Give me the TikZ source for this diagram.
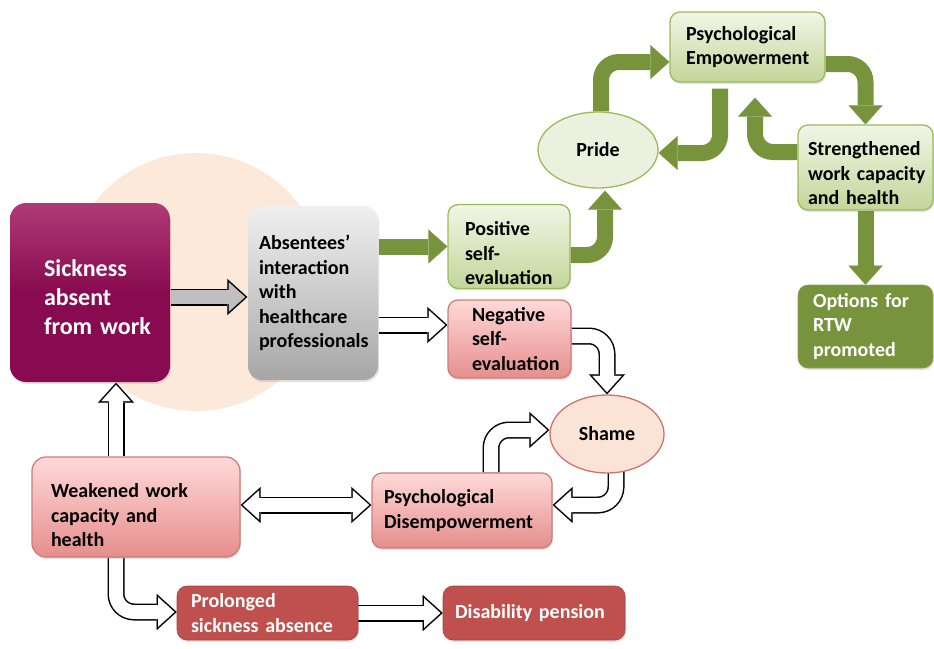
\documentclass[tikz,border=0pt]{standalone}
\usepackage{fontspec}
\setmainfont{Carlito}
\usetikzlibrary{arrows.meta,calc,shapes.geometric,backgrounds,shadows}

\definecolor{plum}{HTML}{880A50}
\definecolor{plumtop}{HTML}{B03A78}
\definecolor{leaf}{HTML}{77933C}
\definecolor{leafline}{HTML}{9BBB59}
\definecolor{leaftop}{HTML}{F1F6E6}
\definecolor{leafbot}{HTML}{C2D69A}
\definecolor{rose}{HTML}{C0504D}
\definecolor{rosetop}{HTML}{FFD9D9}
\definecolor{rosebot}{HTML}{E58E8C}
\definecolor{peach}{HTML}{FDE9D9}
\definecolor{shamefill}{HTML}{FBE4D5}
\definecolor{pridefill}{HTML}{EBF1DE}
\definecolor{arrowgray}{HTML}{C0C0C0}

\hyphenpenalty=10000
\exhyphenpenalty=10000

\tikzset{
  block/.tip={Triangle[width=36pt,length=20pt,line width=0.1pt]},
  blockin/.tip={Triangle[width=29.3pt,length=16.3pt,line width=0.1pt]},
  leafhead/.tip={Triangle[width=34pt,length=19pt,line width=0.1pt]}
}

% outlined block arrow: black edge first, then the body on top
\newcommand{\blockarrow}[2][white]{%
  \draw[arrow edge] #2;
  \draw[arrow body, #1] #2;}
% taller first line, pushes the text of a box down a little
\newcommand{\dropline}[1]{\rule{0pt}{#1}}

\begin{document}
\begin{tikzpicture}[x=10pt,y=10pt,
  every node/.style={font=\bfseries\fontsize{20}{24.5}\selectfont, align=left},
  box/.style={rectangle, rounded corners=10pt, line width=1.3pt,
    drop shadow={opacity=0.22, shadow xshift=1pt, shadow yshift=-2pt}},
  leafbox/.style={box, draw=leafline, top color=leaftop, bottom color=leafbot},
  rosebox/.style={box, draw=rose!75!white, top color=rosetop, bottom color=rosebot},
  darkbox/.style={box, line width=0.6pt, text=white},
  blob/.style={ellipse, line width=1.3pt, inner sep=0pt},
  leafarrow/.style={leaf, line width=16pt, rounded corners=18pt, -leafhead},
  arrow edge/.style={black, line width=17pt, rounded corners=18pt, -block},
  arrow body/.style={line width=14pt, rounded corners=18pt, shorten >=2.25pt, -blockin}]
\useasboundingbox (0,0) rectangle (93.4,-64.8);

\node[box, rounded corners=16pt, minimum height=179pt, text width=92pt, inner xsep=34pt,
  top color=plumtop, bottom color=plum, middle color=plum, text=white,
  font=\bfseries\fontsize{24}{29}\selectfont] (sick) at (9,-29.25) {\dropline{27pt}Sickness\\absent\\from~work};
\node[box, rounded corners=14pt, minimum height=174pt, text width=108pt, inner xsep=11pt,
  top color=gray!12, bottom color=gray!70, middle color=gray!40] (meet) at (31.3,-29.3)
  {Absentees’\\interaction\\with\\healthcare\\professionals};
\node[leafbox, minimum height=79pt, text width=88pt, inner xsep=17pt] (posi) at (50.9,-24.65)
  {\dropline{28pt}Positive\\self-\\evaluation};
\node[rosebox, minimum height=78pt, text width=75pt, inner xsep=24pt] (nega) at (50.95,-33.9)
  {Negative\\self-\\evaluation};
\node[blob, draw=leafline, fill=pridefill, minimum width=120pt, minimum height=76pt] (pride) at (59.8,-15) {Pride};
\node[leafbox, minimum height=70pt, text width=123pt, inner xsep=16pt] (emp) at (74.75,-4.7)
  {Psychological\\Empowerment};
\node[leafbox, minimum height=85pt, text width=115pt, inner xsep=10pt] (strong) at (86.55,-16.75)
  {\dropline{26pt}Strengthened\\work~capacity\\and~health};
\node[darkbox, draw=leaf!85!white, fill=leaf, minimum height=83pt, text width=105pt, inner xsep=15pt] (rtw) at (86.55,-32.65)
  {Options~for\\RTW\\promoted};
\node[blob, draw=rose!80!white, fill=shamefill, minimum width=114pt, minimum height=78pt] (shame) at (60.7,-43.4) {Shame};
\node[rosebox, minimum height=75pt, text width=156pt, inner xsep=12pt] (disemp) at (46.2,-51.05)
  {Psychological\\Disempowerment};
\node[rosebox, rounded corners=14pt, minimum height=100pt, text width=170pt, inner xsep=19pt] (weak) at (13.6,-50.7)
  {\dropline{31pt}Weakened~work\\capacity~and\\health};
\node[darkbox, draw=rose!85!black, fill=rose, minimum height=54pt, text width=153pt, inner xsep=14pt] (prolong) at (26.75,-61.3)
  {Prolonged\\sickness~absence};
\node[darkbox, draw=rose!85!black, fill=rose, minimum height=54pt, text width=158pt, inner xsep=12pt] (pension) at (53.4,-61.3)
  {Disability~pension};

\begin{scope}[on background layer]
\fill[peach] (19.6,-28.2) circle (12.9);

\draw[leafarrow] (meet.east |- posi.west) -- (posi.west);
\draw[leafarrow] ($(posi.east)+(0,-0.85)$) -| ($(pride.south)+(0.7,-0.2)$);
\draw[leafarrow] ($(pride.north)+(0.3,0)$) |- ($(emp.west)+(0,-1.5)$);
\draw[leafarrow] ($(emp.south)+(-2.75,-0.6)$) |- ($(pride.east)+(0,-0.3)$);
\draw[leafarrow] ($(strong.west)+(0,1.55)$) -| ($(emp.south)+(0.75,-1.5)$);
\draw[leafarrow] ($(emp.east)+(0,-1.7)$) -| (strong.north);
\draw[leafarrow] (strong.south) -- (rtw.north);

\blockarrow[arrowgray]{($(sick.east)+(0,-0.45)$) -- ($(meet.west)+(0,-0.4)$)}
\blockarrow{($(meet.east)+(0,-3.2)$) -- ($(nega.west)+(0,1.4)$)}
\blockarrow{($(nega.east)+(0,0.3)$) -| (shame.north)}
\blockarrow{($(shame.south)+(0.9,0.3)$) |- ($(disemp.east)+(0,0.55)$)}
\blockarrow{($(disemp.north)+(2.9,0)$) |- ($(shame.west)+(0,0.4)$)}
\blockarrow{($(weak.north)+(-2,0)$) -- ($(sick.south)+(2.6,0)$)}
\blockarrow{($(weak.south)+(-2,0)$) |- ($(prolong.west)+(0,0.1)$)}
\blockarrow{(prolong.east) -- (pension.west)}
\draw[arrow edge, block-block] ($(weak.east)+(0,0.2)$) -- ($(disemp.west)+(0,0.55)$);
\draw[arrow body, white, shorten <=2.25pt, blockin-blockin] ($(weak.east)+(0,0.2)$) -- ($(disemp.west)+(0,0.55)$);
\end{scope}
\end{tikzpicture}
\end{document}
